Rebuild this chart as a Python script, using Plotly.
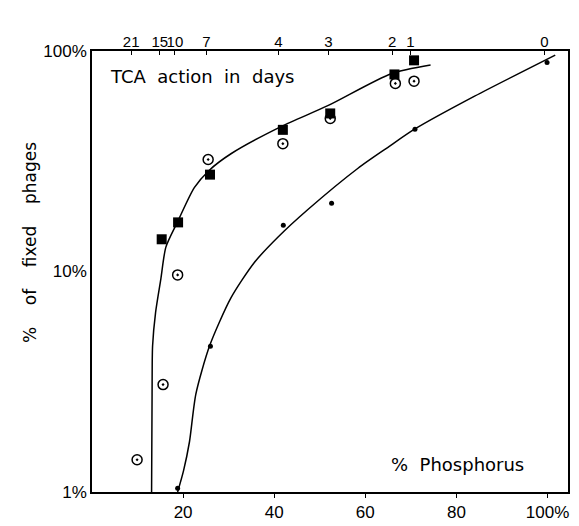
import plotly.graph_objects as go

# ---- data ----
# top axis: TCA action in days, positioned on the % phosphorus scale
day_labels = ["21", "15", "10", "7", "4", "3", "2", "1", "0"]
day_positions = [8.6, 14.9, 18.2, 25.1, 40.9, 51.9, 65.9, 69.9, 99.3]

# filled squares
sq_x = [15.3, 18.9, 25.9, 41.9, 52.3, 66.4, 70.7]
sq_y = [14.0, 16.7, 27.5, 43.9, 52.1, 78.3, 90.7]

# circles with centre dot
ci_x = [9.9, 15.6, 18.8, 25.5, 41.9, 52.3, 66.6, 70.7]
ci_y = [1.40, 3.07, 9.65, 32.2, 38.0, 49.4, 71.3, 73.0]

# small filled dots
dot_x = [18.8, 26.0, 42.0, 52.6, 70.9, 99.9]
dot_y = [1.04, 4.58, 16.2, 20.4, 44.2, 88.6]

# hand-drawn curves
up_x = [13.08, 13.19, 13.30, 13.96, 15.12, 16.22, 18.79, 22.46, 25.76, 30.51,
        41.49, 51.76, 65.67, 74.33]
up_y = [1.0, 2.78, 4.59, 6.53, 9.27, 12.9, 16.8, 24.0, 28.8, 34.2,
        45.4, 56.5, 78.9, 86.3]

lo_x = [18.8, 20.1, 21.4, 22.8, 25.8, 30.5, 35.6, 40.8, 47.4, 58.4, 64.9, 70.9, 84.0, 101.7]
lo_y = [1.0, 1.25, 1.69, 2.78, 4.59, 7.59, 10.96, 14.3, 19.1, 29.4, 36.5, 44.3, 62.4, 95.8]

x_ticks = [20, 40, 60, 80, 100]
x_ticktext = ["20", "40", "60", "80", "100%"]
y_ticks = [1, 10, 100]
y_ticktext = ["1%", "10%", "100%"]

TICKFONT = "Liberation Sans, Arial, sans-serif"
TEXTFONT = "DejaVu Sans, sans-serif"
SP = "\u00a0"

fig = go.Figure()
fig.add_trace(go.Scatter(x=up_x, y=up_y, mode="lines",
                         line=dict(color="black", width=1.5, shape="spline", smoothing=0.7),
                         hoverinfo="skip"))
fig.add_trace(go.Scatter(x=lo_x, y=lo_y, mode="lines",
                         line=dict(color="black", width=1.5, shape="spline", smoothing=0.7),
                         hoverinfo="skip"))
fig.add_trace(go.Scatter(x=ci_x, y=ci_y, mode="markers",
                         marker=dict(symbol="circle-dot", size=10, color="white",
                                     line=dict(color="black", width=1.5))))
fig.add_trace(go.Scatter(x=sq_x, y=sq_y, mode="markers",
                         marker=dict(symbol="square", size=10, color="black")))
fig.add_trace(go.Scatter(x=dot_x, y=dot_y, mode="markers",
                         marker=dict(symbol="circle", size=5, color="black")))
# invisible trace to activate the top axis
fig.add_trace(go.Scatter(x=day_positions, y=[50] * len(day_positions), xaxis="x2",
                         mode="markers", marker=dict(opacity=0), hoverinfo="skip"))

fig.update_layout(
    width=579, height=526,
    margin=dict(l=84, r=19, t=43, b=24),
    paper_bgcolor="white", plot_bgcolor="white",
    showlegend=False,
    font=dict(family=TICKFONT, size=16, color="black"),
    xaxis=dict(range=[0, 104.5], tickvals=x_ticks, ticktext=x_ticktext,
               showgrid=False, zeroline=False, showline=True, linecolor="black",
               linewidth=1.6, mirror=True, ticks="outside", ticklen=4,
               tickcolor="black", tickangle=0,
               tickfont=dict(family=TICKFONT, size=17)),
    xaxis2=dict(range=[0, 104.5], overlaying="x", side="top",
                tickvals=day_positions, ticktext=day_labels,
                showgrid=False, zeroline=False, showline=False,
                ticks="inside", ticklen=4, tickcolor="black", tickangle=0,
                tickfont=dict(family=TICKFONT, size=15)),
    yaxis=dict(type="log", range=[0, 2], tickvals=y_ticks, ticktext=y_ticktext,
               showgrid=False, zeroline=False, showline=True, linecolor="black",
               linewidth=1.6, mirror=True, ticks="",
               tickfont=dict(family=TICKFONT, size=17)),
    annotations=[
        dict(text=f"TCA{SP*2}action{SP*2}in{SP*2}days", xref="paper", yref="paper",
             x=0.034, y=0.943, xanchor="left", yanchor="middle",
             showarrow=False, font=dict(family=TEXTFONT, size=18)),
        dict(text=f"%{SP*2}Phosphorus", xref="paper", yref="paper",
             x=0.912, y=0.062, xanchor="right", yanchor="middle",
             showarrow=False, font=dict(family=TEXTFONT, size=18)),
        dict(text=f"%{SP*4}of{SP*4}fixed{SP*4}phages", xref="paper", yref="paper",
             x=-0.13, y=0.565, xanchor="center", yanchor="middle",
             textangle=-90, showarrow=False, font=dict(family=TEXTFONT, size=17)),
    ],
)

fig.write_html("out.html")
